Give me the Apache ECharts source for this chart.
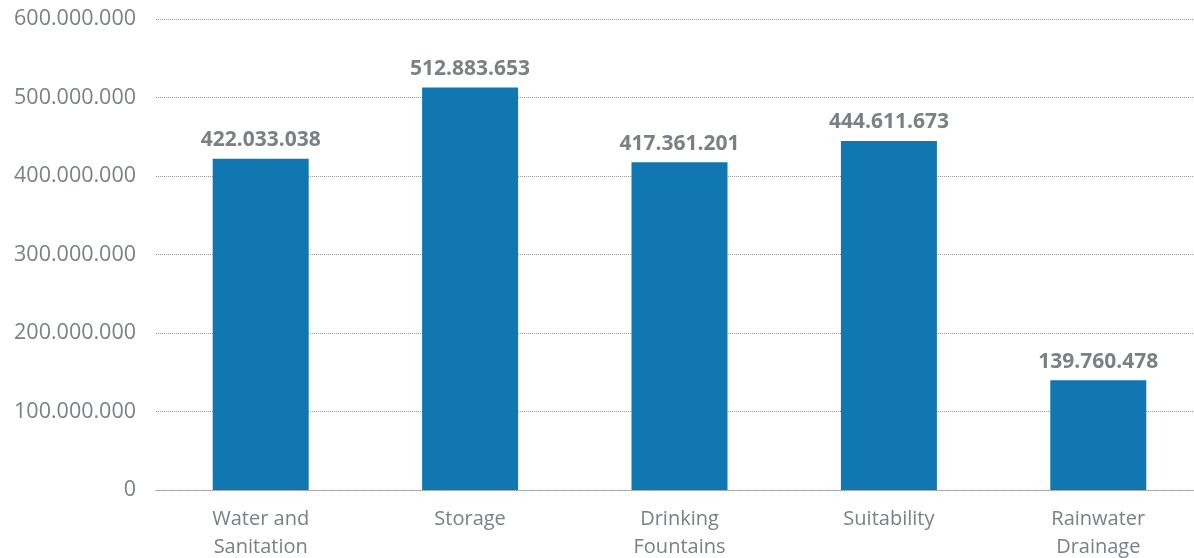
<!DOCTYPE html>
<html>
<head>
    <meta charset="utf-8">
    <title>Investment by category</title>
    <script src="https://cdn.jsdelivr.net/npm/echarts@6/dist/echarts.min.js"></script>
    <style>
        html, body { margin: 0; padding: 0; background: #fff; }
        #box { width: 1194px; height: 558px; }
    </style>
</head>
<body>
    <div id="box"></div>
    <script>
        var categories = ['Water and\nSanitation', 'Storage', 'Drinking\nFountains', 'Suitability', 'Rainwater\nDrainage'];
        var values = [422033038, 512883653, 417361201, 444611673, 139760478];

        // 1234567 -> 1.234.567
        function dots(v) {
            return String(Math.round(v)).replace(/\B(?=(\d{3})+(?!\d))/g, '.');
        }

        var gray = '#7b8085';
        var myChart = echarts.init(document.getElementById('box'));
        var option = {
            animation: false,
            // plot runs a bit past the right edge, like the original
            grid: { left: 156, right: -9, top: 19, bottom: 68, containLabel: false, outerBoundsMode: 'none' },
            xAxis: {
                type: 'category',
                data: categories,
                axisLine: { show: true, lineStyle: { color: '#999', type: 'dotted', width: 1 } },
                axisTick: { show: false },
                axisLabel: {
                    color: gray,
                    fontFamily: 'Open Sans',
                    fontSize: 20,
                    lineHeight: 28,
                    margin: 15
                }
            },
            yAxis: {
                type: 'value',
                min: 0,
                max: 600000000,
                interval: 100000000,
                axisLine: { show: false },
                axisTick: { show: false },
                splitLine: { lineStyle: { color: '#999', type: 'dotted', width: 1 } },
                axisLabel: {
                    color: gray,
                    fontFamily: 'Open Sans',
                    fontSize: 21.5,
                    margin: 20,
                    formatter: dots
                }
            },
            series: [{
                type: 'bar',
                data: values,
                barWidth: 96,
                itemStyle: { color: '#1077b0' },
                label: {
                    show: true,
                    position: 'top',
                    distance: 8,
                    color: gray,
                    fontFamily: 'Open Sans',
                    fontWeight: 'bold',
                    fontSize: 21,
                    formatter: function (p) { return dots(p.value); }
                }
            }]
        };
        myChart.setOption(option);
    </script>
</body>
</html>
